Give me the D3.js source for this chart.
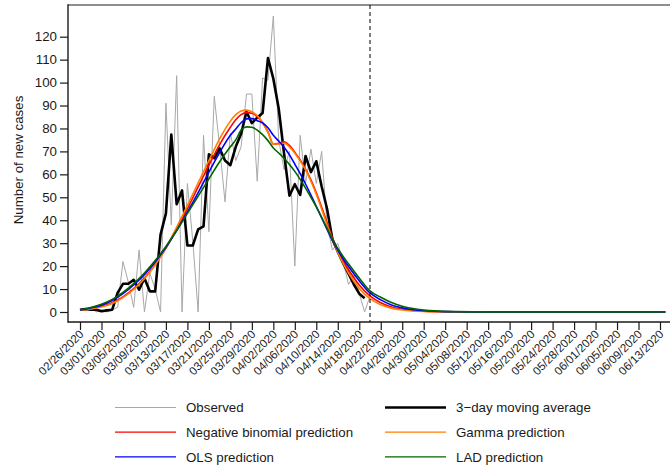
<!DOCTYPE html>
<html>
<head>
<meta charset="utf-8">
<script src="https://cdn.jsdelivr.net/npm/d3@7"></script>
<style>
  body { margin: 0; background: #fff; }
  svg { display: block; font-family: "Liberation Sans", Arial, Helvetica, sans-serif; }
</style>
</head>
<body>
<svg id="chart" width="670" height="467"></svg>
<script>
// Daily series start on this date (one value per day)
const firstDay = "2020-02-26";

// Reported new cases per day
const observed = [1,1,2,0,1,0,1,2,22,13, 2,27,0,17,10,0,91,38,103,0,
  56,31,0,77,35,94,72,48,78,66, 72,95,95,57,102,101,129,75,62,70,
  20,77,56,71,56,70,38,27,30,22, 12,16,8,0,7];

// Centred 3-day moving average
const movingAverage = [1,1.3,1,1,0.3,0.7,1,8.3,12.3,12.3, 14,9.7,14.7,9,9,33.7,43,77.3,47,53,
  29,29,36,37.3,68.7,67,71.3,66,64,72, 77.7,87.3,82.3,84.7,86.7,110.7,101.7,88.7,69,50.7,
  55.7,51,68,61,65.7,54.7,45,31.7,26.3,21.3, 16.7,12,8,6];

// Model predictions, sampled at these day offsets from firstDay
const fitDays = [0,2,4,6,8,10,12,14,16,18,20,22,24,26,28,29,30,31,32,33,34,35,36,37,38,39,40,
  41,42,43,44,45,46,47,48,49,50,52,54,56,58,60,62,64,66,68,70,75,80,90,100,109];
const negBinomial = [0.8,1.4,2.4,4.0,6.6,10.2,14.8,20.8,27.8,36,45,54.5,64,73,80.5,83.8,86,86.9,86.6,85.2,82.5,78.5,73.2,73.5,74.2,72.6,69.6,
  66.3,62.3,57.6,52,45.7,39,32.3,27,22.4,18.4,11.8,7,4.0,2.2,1.2,0.65,0.35,0.18,0.09,0.05,0.01,0,0,0,0];
const gammaFit = [0.8,1.3,2.2,3.7,6.3,9.8,14.5,20.5,28,37,46.5,56.3,66,75.5,83.2,86,87.6,88,87.3,85.6,82.6,78.3,73.3,73.2,73.6,72,69.2,
  65.9,61.9,57,51.3,44.8,38,31.5,26,21.2,17,10.3,5.8,3.2,1.7,0.9,0.45,0.22,0.1,0.05,0.02,0,0,0,0,0];
const olsFit = [0.9,1.8,3.0,5.0,8.0,11.8,16.3,21.8,28.2,35.5,43.5,52,61,69.5,77,79.8,82.5,84.2,84.3,83.4,82.4,80.3,77,74.5,71.8,68.5,64.5,
  60.3,55.8,51,46,41,36,31.2,27,23.2,19.8,13.6,8.3,5.3,3.1,1.8,1.0,0.55,0.3,0.15,0.08,0.02,0,0,0,0];
const ladFit = [1.0,2.0,3.4,5.5,8.6,12.4,17,22.4,28.6,35.5,43,50.5,58,65.5,72,75,79.3,80.7,80.5,79.3,77.3,74.7,71.5,69.3,67,64.3,61.3,
  57.8,54,50,45.8,41.3,36.6,31.8,27.7,24.2,21,14.8,9.2,6.4,4.1,2.5,1.5,0.9,0.5,0.28,0.15,0.04,0.01,0,0,0];

// Axis ticks
const xTickLabels = ["02/26/2020","03/01/2020","03/05/2020","03/09/2020","03/13/2020","03/17/2020","03/21/2020",
  "03/25/2020","03/29/2020","04/02/2020","04/06/2020","04/10/2020","04/14/2020","04/18/2020","04/22/2020",
  "04/26/2020","04/30/2020","05/04/2020","05/08/2020","05/12/2020","05/16/2020","05/20/2020","05/24/2020",
  "05/28/2020","06/01/2020","06/05/2020","06/09/2020","06/13/2020"];
const yTicks = [0,10,20,30,40,50,60,70,80,90,100,110,120];
const cutoffDate = "2020-04-20";

// Legend entries
const legendLabels = ["Observed","3\u2212day moving average","Negative binomial prediction","Gamma prediction","OLS prediction","LAD prediction"];
const legendColors = ["#a8a8a8","#000000","#ff0000","#ff7f00","#0000ff","#006400"];

const svg = d3.select("#chart");
const parseIso = d3.utcParse("%Y-%m-%d");
const parseLabel = d3.utcParse("%m/%d/%Y");
const start = parseIso(firstDay);
const dayDate = i => d3.utcDay.offset(start, i);

const x = d3.scaleUtc()
  .domain([parseLabel(xTickLabels[0]), parseLabel(xTickLabels[xTickLabels.length - 1])])
  .range([80, 660]);
const y = d3.scaleLinear().domain([0, 120]).range([312, 36.7]);

const plotLeft = 68, plotTop = 5, plotBottom = 322, plotRight = 670;

// Frame: top, left and bottom edges
svg.append("line").attr("x1", plotLeft).attr("x2", plotRight).attr("y1", plotTop).attr("y2", plotTop)
  .attr("stroke", "#6a6a6a").attr("stroke-width", 1.4);
svg.append("line").attr("x1", plotLeft).attr("x2", plotLeft).attr("y1", plotTop - 0.7).attr("y2", plotBottom + 0.7)
  .attr("stroke", "#1a1a1a").attr("stroke-width", 1.4);
svg.append("line").attr("x1", plotLeft).attr("x2", plotRight).attr("y1", plotBottom).attr("y2", plotBottom)
  .attr("stroke", "#1a1a1a").attr("stroke-width", 1.6);

// Y axis
const yAxis = svg.append("g").attr("transform", `translate(${plotLeft},0)`)
  .call(d3.axisLeft(y).tickValues(yTicks).tickSize(8).tickPadding(3));
yAxis.select(".domain").remove();
yAxis.selectAll(".tick line").attr("stroke", "#1a1a1a").attr("stroke-width", 1.2);
yAxis.selectAll(".tick text").attr("font-size", 13.3).attr("fill", "#1a1a1a")
  .attr("font-family", "'Liberation Sans', Arial, sans-serif");

// X axis with slanted date labels
const xAxis = svg.append("g").attr("transform", `translate(0,${plotBottom})`)
  .call(d3.axisBottom(x).tickValues(xTickLabels.map(parseLabel)).tickSize(8)
    .tickFormat(d3.utcFormat("%m/%d/%Y")));
xAxis.select(".domain").remove();
xAxis.selectAll(".tick line").attr("stroke", "#1a1a1a").attr("stroke-width", 1.2);
xAxis.selectAll(".tick text")
  .attr("font-size", 11.6).attr("fill", "#1a1a1a")
  .attr("font-family", "'Liberation Sans', Arial, sans-serif")
  .attr("text-anchor", "end")
  .attr("y", 0).attr("dy", "0.35em")
  .attr("transform", "translate(1,10) rotate(-45)");

// Y axis title
svg.append("text")
  .attr("transform", "translate(18,160) rotate(-90)")
  .attr("text-anchor", "middle").attr("dy", "0.35em")
  .attr("font-size", 13.3).attr("fill", "#1a1a1a")
  .text("Number of new cases");

// Series
const lineDaily = d3.line().x((d, i) => x(dayDate(i))).y(d => y(d));
const lineFit = d3.line().x(d => x(dayDate(d[0]))).y(d => y(d[1])).curve(d3.curveMonotoneX);

svg.append("path").datum(observed).attr("d", lineDaily)
  .attr("fill", "none").attr("stroke", legendColors[0]).attr("stroke-width", 1).attr("stroke-linejoin", "round");
svg.append("path").datum(movingAverage).attr("d", lineDaily)
  .attr("fill", "none").attr("stroke", legendColors[1]).attr("stroke-width", 2.6).attr("stroke-linejoin", "round");

const fits = [negBinomial, gammaFit, olsFit, ladFit];
fits.forEach((vals, k) => {
  svg.append("path").datum(fitDays.map((d, i) => [d, vals[i]])).attr("d", lineFit)
    .attr("fill", "none").attr("stroke", legendColors[k + 2]).attr("stroke-width", 1.6);
});

// Cut-off marker
svg.append("line")
  .attr("x1", x(parseIso(cutoffDate))).attr("x2", x(parseIso(cutoffDate)))
  .attr("y1", plotTop).attr("y2", plotBottom)
  .attr("stroke", "#000").attr("stroke-width", 1).attr("stroke-dasharray", "4,3");

// Legend: two columns, three rows
const legend = svg.append("g");
legendLabels.forEach((label, i) => {
  const col = i % 2, row = Math.floor(i / 2);
  const lx = col === 0 ? 115 : 385;
  const ly = 407.5 + row * 24.7;
  legend.append("line").attr("x1", lx).attr("x2", lx + 61).attr("y1", ly).attr("y2", ly)
    .attr("stroke", legendColors[i]).attr("stroke-width", i === 1 ? 2.6 : 1.2);
  legend.append("text").attr("x", lx + 71).attr("y", ly).attr("dy", "0.35em")
    .attr("font-size", 13.3).attr("fill", "#1a1a1a").text(label);
});
</script>
</body>
</html>
